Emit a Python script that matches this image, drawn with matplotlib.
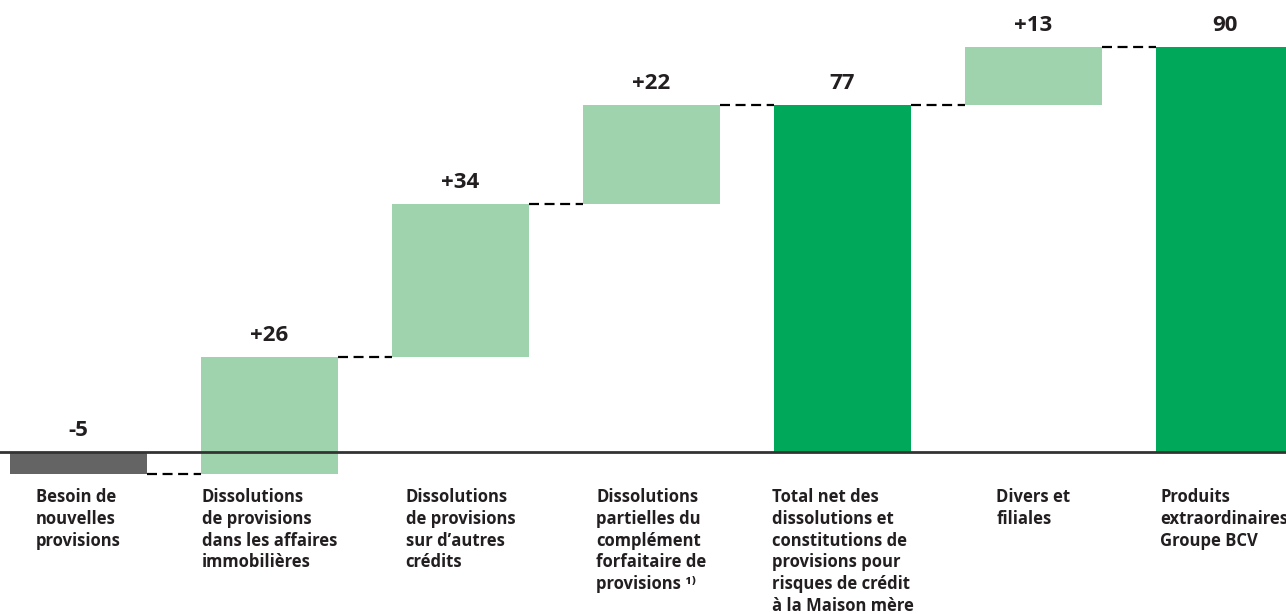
import matplotlib
matplotlib.use("Agg")
import matplotlib.pyplot as plt
import matplotlib.transforms as mtransforms

categories = [
    "Besoin de\nnouvelles\nprovisions",
    "Dissolutions\nde provisions\ndans les affaires\nimmobilières",
    "Dissolutions\nde provisions\nsur d\u2019autres\ncrédits",
    "Dissolutions\npartielles du\ncomplément\nforfaitaire de\nprovisions \u00b9\u207e",
    "Total net des\ndissolutions et\nconstitutions de\nprovisions pour\nrisques de crédit\nà la Maison mère",
    "Divers et\nfiliales",
    "Produits\nextraordinaires\nGroupe BCV",
]
values = [-5, 26, 34, 22, 77, 13, 90]
kinds = ["neg", "delta", "delta", "delta", "total", "delta", "total"]
value_labels = ["-5", "+26", "+34", "+22", "77", "+13", "90"]

colors = {"neg": "#646464", "delta": "#9ed3ae", "total": "#00a95a"}
text_color = "#231f20"
fam = ["Open Sans", "DejaVu Sans"]

fig = plt.figure(figsize=(12.86, 6.14), dpi=100)
ax = fig.add_axes([0, 0, 1, 1])
ax.set_xlim(-0.411, 6.322)
ax.set_ylim(-36, 100.4)
ax.axis("off")

width = 0.717
cum = 0
bottoms, heights, tops, ends = [], [], [], []
for v, k in zip(values, kinds):
    if k == "total":
        b, h = 0, v
        cum = v
    else:
        b, h = cum, v
        cum = cum + v
    bottoms.append(b)
    heights.append(h)
    tops.append(max(b, b + h))
    ends.append(cum)

xs = list(range(len(values)))
ax.bar(xs, heights, bottom=bottoms, width=width,
       color=[colors[k] for k in kinds], linewidth=0, zorder=2)

# connectors
for i in range(len(values) - 1):
    ax.plot([xs[i] + width / 2, xs[i + 1] - width / 2], [ends[i], ends[i]],
            color="black", linewidth=1.6, linestyle=(0, (4.5, 2.5)), zorder=3)

# baseline
ax.axhline(0, color="#333333", linewidth=2, zorder=4)

# value labels
for x, t, lab in zip(xs, tops, value_labels):
    tr = mtransforms.offset_copy(ax.transData, fig=fig, x=0, y=16, units="dots")
    ax.text(x, t, lab, transform=tr, ha="center", va="baseline",
            fontsize=16, fontweight="bold", color=text_color, family=fam)

# category labels
tr2 = mtransforms.offset_copy(ax.transData, fig=fig, x=0, y=-36, units="dots")
for x, c in zip(xs, categories):
    ax.text(x, 0, c, transform=tr2, ha="center", va="top", multialignment="left",
            fontsize=12, fontweight="bold", color=text_color, family=fam,
            linespacing=1.27)

fig.savefig("out.png", dpi=100)
